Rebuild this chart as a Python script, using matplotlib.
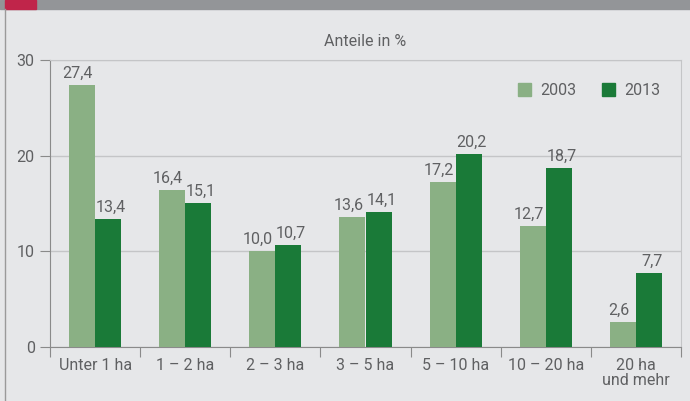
import matplotlib
matplotlib.use("Agg")
import matplotlib.pyplot as plt
import numpy as np
from matplotlib.patches import Rectangle
from matplotlib.lines import Line2D

categories = ["Unter 1 ha", "1 – 2 ha", "2 – 3 ha", "3 – 5 ha", "5 – 10 ha", "10 – 20 ha", "20 ha\nund mehr"]
values_2003 = [27.4, 16.4, 10.0, 13.6, 17.2, 12.7, 2.6]
values_2013 = [13.4, 15.1, 10.7, 14.1, 20.2, 18.7, 7.7]
series_names = ["2003", "2013"]
yticks = [0, 10, 20, 30]

plt.rcParams['font.family'] = ['Roboto', 'DejaVu Sans']

bg = "#e6e7e9"
txt = "#5f6062"
c_light = "#8ab084"
c_dark = "#1a7a38"

W, H = 690, 401
fig = plt.figure(figsize=(W/100, H/100), dpi=100, facecolor=bg)
ax = fig.add_axes([50/W, 1-347/H, (681-50)/W, (347-60)/H])
ax.set_facecolor(bg)

x = np.arange(len(categories))
bw = 0.29
fs = 11.5
b1 = ax.bar(x - bw/2, values_2003, bw, color=c_light, zorder=3)
b2 = ax.bar(x + bw/2, values_2013, bw, color=c_dark, zorder=3)
for bars, vals, dx in ((b1, values_2003, -3), (b2, values_2013, 2)):
    for r, v in zip(bars, vals):
        ax.annotate(f"{v:.1f}".replace(".", ","), (r.get_x()+r.get_width()/2, v),
                    xytext=(dx, 3), textcoords="offset points", ha="center", va="bottom",
                    fontsize=fs, color=txt)

ax.set_xlim(-0.5, len(categories)-0.5)
ax.set_ylim(0, 30)
ax.set_yticks(yticks)
ax.set_yticklabels([str(t) for t in yticks])
ax.set_xticks(np.arange(len(categories)+1) - 0.5)
ax.set_xticklabels([])
ax.set_xticks(x, minor=True)
ax.set_xticklabels(categories, minor=True, fontsize=fs, color=txt, linespacing=1.0)
ax.tick_params(axis="x", which="minor", length=0, pad=8)
ax.tick_params(axis="x", which="major", length=7, color="#8a8a8a", direction="out")
ax.tick_params(axis="y", length=7, color="#8a8a8a", labelsize=fs, labelcolor=txt, pad=4)
ax.yaxis.grid(True, color="#c4c5c7", lw=1, zorder=0)
for s in ("left", "bottom"):
    ax.spines[s].set_color("#8a8a8a")
for s in ("top", "right"):
    ax.spines[s].set_color("#c4c5c7")

ax.set_title("Anteile in %", fontsize=fs, color=txt, pad=10)

handles = [Rectangle((0, 0), 1, 1, color=c_light), Rectangle((0, 0), 1, 1, color=c_dark)]
leg = ax.legend(handles, series_names, loc="upper right", bbox_to_anchor=(0.99, 0.97), ncol=2,
                frameon=False, fontsize=fs, labelcolor=txt, handlelength=0.8, handleheight=0.8,
                handletextpad=0.6, columnspacing=1.6)

fig.patches.append(Rectangle((0, 1-9/H), 1, 9/H, transform=fig.transFigure, color="#939598", zorder=0))
fig.patches.append(Rectangle((5/W, 1-9/H), 31/W, 9/H, transform=fig.transFigure, color="#c0254a", zorder=1))
fig.lines.append(Line2D([5/W, 5/W], [0, 1-9/H], transform=fig.transFigure, color="#9a9a9a", lw=1))

fig.savefig("out.png", dpi=100, facecolor=bg)
